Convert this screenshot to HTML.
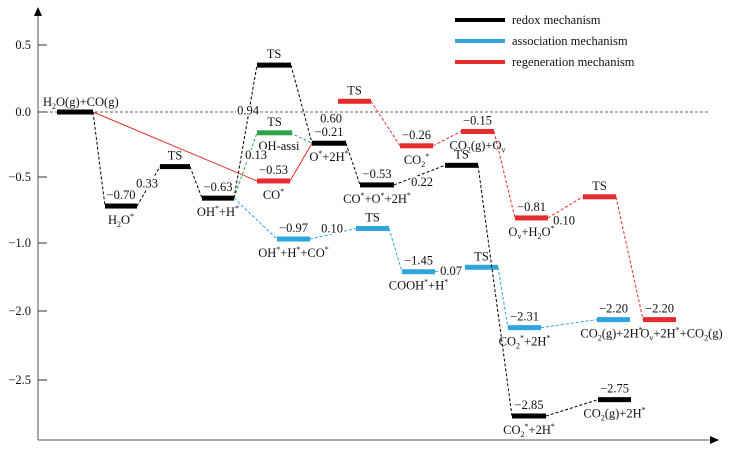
<!DOCTYPE html>
<html><head><meta charset="utf-8"><style>
html,body{margin:0;padding:0;background:#fff;}
svg{display:block;font-family:"Liberation Serif",serif;}
</style></head><body>
<svg id="chart" width="750" height="458" viewBox="0 0 750 458" xmlns="http://www.w3.org/2000/svg"></svg>
<script>
// ---- data ----
const yTickValues = [0.5, 0.0, -0.5, -1.0, -2.0, -2.5];
const yTickLabels = ["0.5", "0.0", "\u22120.5", "\u22121.0", "\u22122.0", "\u22122.5"];
const blackRC = [1.7, 6.5, 12.0, 16.2, 21.7, 27.2, 32.0, 40.5, 47.2, 55.8];
const blackE = [0.00, -0.72, -0.42, -0.66, 0.35, -0.24, -0.56, -0.41, -2.85, -2.75];
const blackVal = ["", "\u22120.70", "", "\u22120.63", "", "\u22120.21", "\u22120.53", "", "\u22122.85", "\u22122.75"];
const blackName = ["H_2O(g)+CO(g)", "H_2O^*", "TS", "OH^*+H^*", "TS", "O^*+2H^*", "CO^*+O^*+2H^*", "TS", "CO_2^*+2H^*", "CO_2(g)+2H^*"];
const blueRC = [23.7, 31.6, 36.2, 42.5, 46.8, 55.7];
const blueE = [-0.97, -0.89, -1.45, -1.38, -2.31, -2.20];
const blueVal = ["\u22120.97", "", "\u22121.45", "", "\u22122.31", "\u22122.20"];
const blueName = ["OH^*+H^*+CO^*", "TS", "COOH^*+H^*", "TS", "CO_2^*+2H^*", "CO_2(g)+2H^*"];
const redRC = [21.7, 29.8, 36.0, 42.1, 47.5, 54.3, 60.3];
const redE = [-0.53, 0.08, -0.26, -0.15, -0.81, -0.65, -2.20];
const redVal = ["\u22120.53", "", "\u22120.26", "\u22120.15", "\u22120.81", "", "\u22122.20"];
const redName = ["CO^*", "TS", "CO_2^*", "CO_2(g)+O_v", "O_v+H_2O^*", "TS", "O_v+2H^*+CO_2(g)"];
const greenRC = [21.7];
const greenE = [-0.16];
const barrierText = ["0.33", "0.94", "0.13", "0.60", "0.22", "0.10", "0.10", "0.07"];
const barrierRC = [10.7, 20.8, 21.6, 29.1, 38.2, 29.2, 52.4, 41.1];
const barrierE = [-0.58, -0.02, -0.36, -0.08, -0.57, -0.92, -0.86, -1.50];
const legendLabels = ["redox mechanism", "association mechanism", "regeneration mechanism"];

// ---- scales ----
const kV = [0.5, 0, -0.5, -1, -2.3, -2.85], kP = [45, 112, 177, 243, 326, 416];
function ys(v){
  let i = 0;
  while (i < kV.length - 2 && v < kV[i+1]) i++;
  const t = (v - kV[i]) / (kV[i+1] - kV[i]);
  return kP[i] + t * (kP[i+1] - kP[i]);
}
function xs(rc){ return 40 + rc * 10; }
const BW = 3.3;
const svg = document.getElementById('chart');
const NS = "http://www.w3.org/2000/svg";
function mk(tag, attrs, parent){
  const e = document.createElementNS(NS, tag);
  for (const k in attrs) e.setAttribute(k, attrs[k]);
  (parent || svg).appendChild(e);
  return e;
}
function rich(el, s){
  let i = 0;
  while (i < s.length){
    const c = s[i];
    if ((c === '_' || c === '^') && i + 1 < s.length){
      const t = mk('tspan', {'font-size': 8, 'baseline-shift': c === '_' ? '-3' : '5'}, el);
      t.textContent = s[i+1];
      i += 2;
    } else {
      let j = i;
      while (j < s.length && s[j] !== '_' && s[j] !== '^') j++;
      const t = mk('tspan', {}, el);
      t.textContent = s.slice(i, j);
      i = j;
    }
  }
}
function txt(s, x, y, name, anchor){
  const t = mk('text', {x: x, y: y, 'font-size': 12.5, 'text-anchor': anchor || 'middle', fill: '#111'});
  
  
  rich(t, s);
  return t;
}

// ---- axes ----
const ax = mk('g', {});


mk('line', {x1: 38, y1: 14, x2: 38, y2: 440, stroke: '#555', 'stroke-width': 1}, ax);
mk('path', {d: 'M34,16 L38,7 L42,16 Z', fill: '#000'}, ax);
mk('line', {x1: 38, y1: 440, x2: 712, y2: 440, stroke: '#555', 'stroke-width': 1}, ax);
mk('path', {d: 'M710,436 L719,440 L710,444 Z', fill: '#000'}, ax);
const tickPx = [45, 112, 177, 243, 311, 380];
yTickValues.forEach((v, i) => {
  const y = (v === -2.0 || v === -2.5) ? tickPx[i] : ys(v);
  const l = mk('line', {x1: 38, y1: y, x2: 47, y2: y, stroke: '#333', 'stroke-width': 1});
  
  
  txt(yTickLabels[i], 31, y + 4, 'y-tick-label', 'end');
});
const zl = mk('line', {x1: 40, y1: ys(0), x2: 710, y2: ys(0), stroke: '#333', 'stroke-width': 0.8, 'stroke-dasharray': '3,2'});



// ---- series ----
function drawSeries(rcs, es, vals, names, color, key, conns, bw, ndx){
  const g = mk('g', {});
  
  
  conns.forEach(c => {
    const a = c[0], b = c[1];
    const l = mk('line', {x1: xs(a[0]), y1: ys(a[1]), x2: xs(b[0]), y2: ys(b[1]), stroke: color, 'stroke-width': 1, 'stroke-dasharray': c[2] ? 'none' : '3,2'}, g);
    
    
  });
  rcs.forEach((rc, i) => {
    const w = (bw && bw[i]) || BW;
    const x1 = xs(rc), x2 = xs(rc + w), y = ys(es[i]);
    const r = mk('rect', {x: x1, y: y - 2.5, width: x2 - x1, height: 5, fill: color}, g);
    
    
    const cx = (x1 + x2) / 2;
    const nm = names[i];
    if (nm === 'TS') txt('TS', cx, y - 7, key + '-ts-label');
    else if (nm.indexOf('(g)+CO(g)') > 0) txt(nm, 43, y - 6, key + '-state-label', 'start');
    else txt(nm, cx + ((ndx && ndx[i]) || 0), y + 18, key + '-state-label');
    if (vals && vals[i]) txt(vals[i], cx, y - 7, key + '-energy-label');
  });
}
function pt(rcs, es, i, end, bw){ const w = (bw && bw[i]) || BW; return [rcs[i] + (end ? w : 0), es[i]]; }
const bBW = [3.6, 3.2, 3.0, 3.2, 3.4, 3.4, 3.4, 3.3, 3.4, 3.3];
const blackConn = [];
for (let i = 0; i < blackRC.length - 1; i++) blackConn.push([pt(blackRC, blackE, i, true, bBW), pt(blackRC, blackE, i + 1, false, bBW)]);
const blueConn = [[pt(blackRC, blackE, 3, true, bBW), pt(blueRC, blueE, 0, false)]];
for (let i = 0; i < blueRC.length - 1; i++) blueConn.push([pt(blueRC, blueE, i, true), pt(blueRC, blueE, i + 1, false)]);
const redConn = [[pt(blackRC, blackE, 0, true, bBW), pt(redRC, redE, 0, false), true],
  [pt(redRC, redE, 0, true), pt(blackRC, blackE, 5, false, bBW), true]];
for (let i = 1; i < redRC.length - 1; i++) redConn.push([pt(redRC, redE, i, true), pt(redRC, redE, i + 1, false)]);
const greenConn = [[pt(blackRC, blackE, 3, true, bBW), pt(greenRC, greenE, 0, false)],
  [pt(greenRC, greenE, 0, true), pt(blackRC, blackE, 5, false, bBW)]];

drawSeries(redRC, redE, redVal, redName, '#e52b2b', 'regeneration', redConn, null, [0,0,0,0,0,0,22]);
drawSeries(blueRC, blueE, blueVal, blueName, '#2ea6dd', 'association', blueConn, null, [0,0,0,0,0,-2]);
drawSeries(greenRC, greenE, null, ['TS'], '#2fa34a', 'oh-assisted', greenConn, [3.5]);
txt('OH-assi', 279, 150, 'oh-assisted-label');
drawSeries(blackRC, blackE, blackVal, blackName, '#000', 'redox', blackConn, bBW);

barrierText.forEach((s, i) => {
  const t = txt(s, xs(barrierRC[i]), ys(barrierE[i]), 'barrier-label');
  t.setAttribute('stroke', '#fff'); t.setAttribute('stroke-width', '3'); t.setAttribute('paint-order', 'stroke');
});

// ---- legend ----
const lg = mk('g', {});


const lgColors = ['#000', '#2ea6dd', '#e52b2b'];
legendLabels.forEach((s, i) => {
  const y = 20 + i * 21;
  const r = mk('rect', {x: 455, y: y - 2, width: 50, height: 4, fill: lgColors[i]}, lg);
  
  
  const t = mk('text', {x: 512, y: y + 4, 'font-size': 12.5, fill: '#111'}, lg);
  
  
  t.textContent = s;
});
</script>
</body></html>
